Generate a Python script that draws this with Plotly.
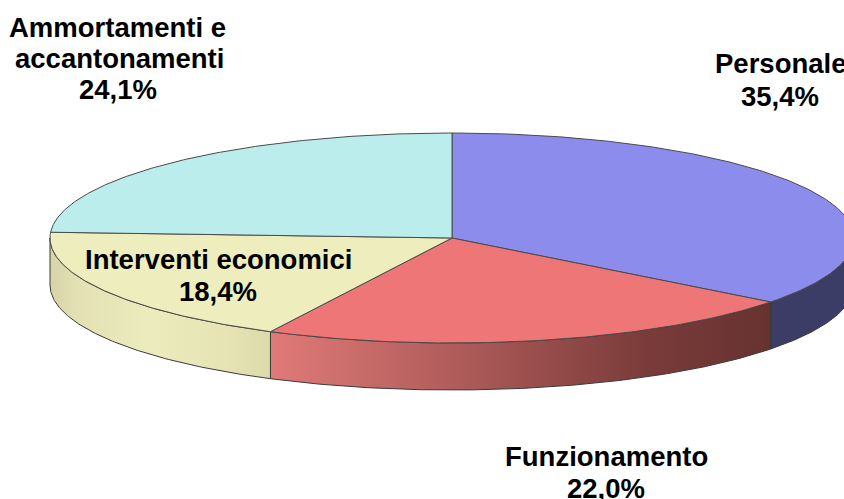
import numpy as np
import plotly.graph_objects as go

categories = ["Personale", "Funzionamento", "Interventi economici", "Ammortamenti e accantonamenti"]
values = [35.4, 22.0, 18.4, 24.1]
top_colors = ["#8c8ced", "#ee7676", "#ededbd", "#bbeded"]

W, H = 844, 499
CX, CY, RX, RY, DEPTH = 452, 238, 402, 105, 47
EDGE = "#4a4a4a"


def ex(a):
    return CX + RX * np.sin(a)


def ey(a):
    return CY - RY * np.cos(a)


total = sum(values)
bounds = np.radians(np.concatenate([[0], np.cumsum(values)]) / total * 360)

walls = [
    (bounds[0], bounds[1], "#3c3d66", None),
    (bounds[1], bounds[2], None, [[0, "#e07a78"], [0.35, "#b25e5c"], [0.75, "#7a3c3a"], [1, "#663230"]]),
    (bounds[2], bounds[3], None, [[0, "#d6d4a6"], [0.12, "#e3e1b3"], [0.45, "#ecebbd"], [0.8, "#e6e4b5"], [1, "#dcdaa9"]]),
]

fig = go.Figure()

for start, stop, solid, grad in walls:
    lo = max(start, np.pi / 2)
    hi = min(stop, 3 * np.pi / 2)
    a = np.linspace(lo, hi, 120)
    x = np.concatenate([ex(a), ex(a[::-1]), [ex(a[0])]])
    y = np.concatenate([ey(a), ey(a[::-1]) + DEPTH, [ey(a[0])]])
    kw = dict(fillcolor=solid) if solid else dict(
        fillgradient=dict(type="horizontal", colorscale=grad))
    fig.add_trace(go.Scatter(x=x, y=y, mode="lines", fill="toself",
                             line=dict(color="#3a3a3a", width=1), hoverinfo="skip", **kw))

for i, colour in enumerate(top_colors):
    a = np.linspace(bounds[i], bounds[i + 1], 200)
    x = np.concatenate([[CX], ex(a), [CX]])
    y = np.concatenate([[CY], ey(a), [CY]])
    fig.add_trace(go.Scatter(x=x, y=y, mode="lines", fill="toself", fillcolor=colour,
                             line=dict(color=EDGE, width=1), hoverinfo="skip"))

label_lines = [
    ("Personale", 780, 63),
    ("35,4%", 780, 96),
    ("Funzionamento", 606, 456),
    ("22,0%", 606, 488),
    ("Interventi economici", 218, 259),
    ("18,4%", 218, 291),
    ("Ammortamenti e", 117, 27),
    ("accantonamenti", 119, 58),
    ("24,1%", 118, 89),
]
for text, x, y in label_lines:
    fig.add_annotation(x=x, y=y, text=text, showarrow=False, xref="x", yref="y",
                       font=dict(family="Liberation Sans", size=27.5, color="#000000", weight="bold"),
                       align="center", xanchor="center", yanchor="middle", borderpad=0)

fig.update_layout(
    width=W, height=H, margin=dict(l=0, r=0, t=0, b=0), showlegend=False,
    paper_bgcolor="white", plot_bgcolor="white",
    xaxis=dict(range=[0, W], visible=False, fixedrange=True),
    yaxis=dict(range=[H, 0], visible=False, fixedrange=True),
)
fig.write_html("out.html", config={"displayModeBar": False},
               post_script="document.body.style.margin='0';document.documentElement.style.overflow='hidden';")
